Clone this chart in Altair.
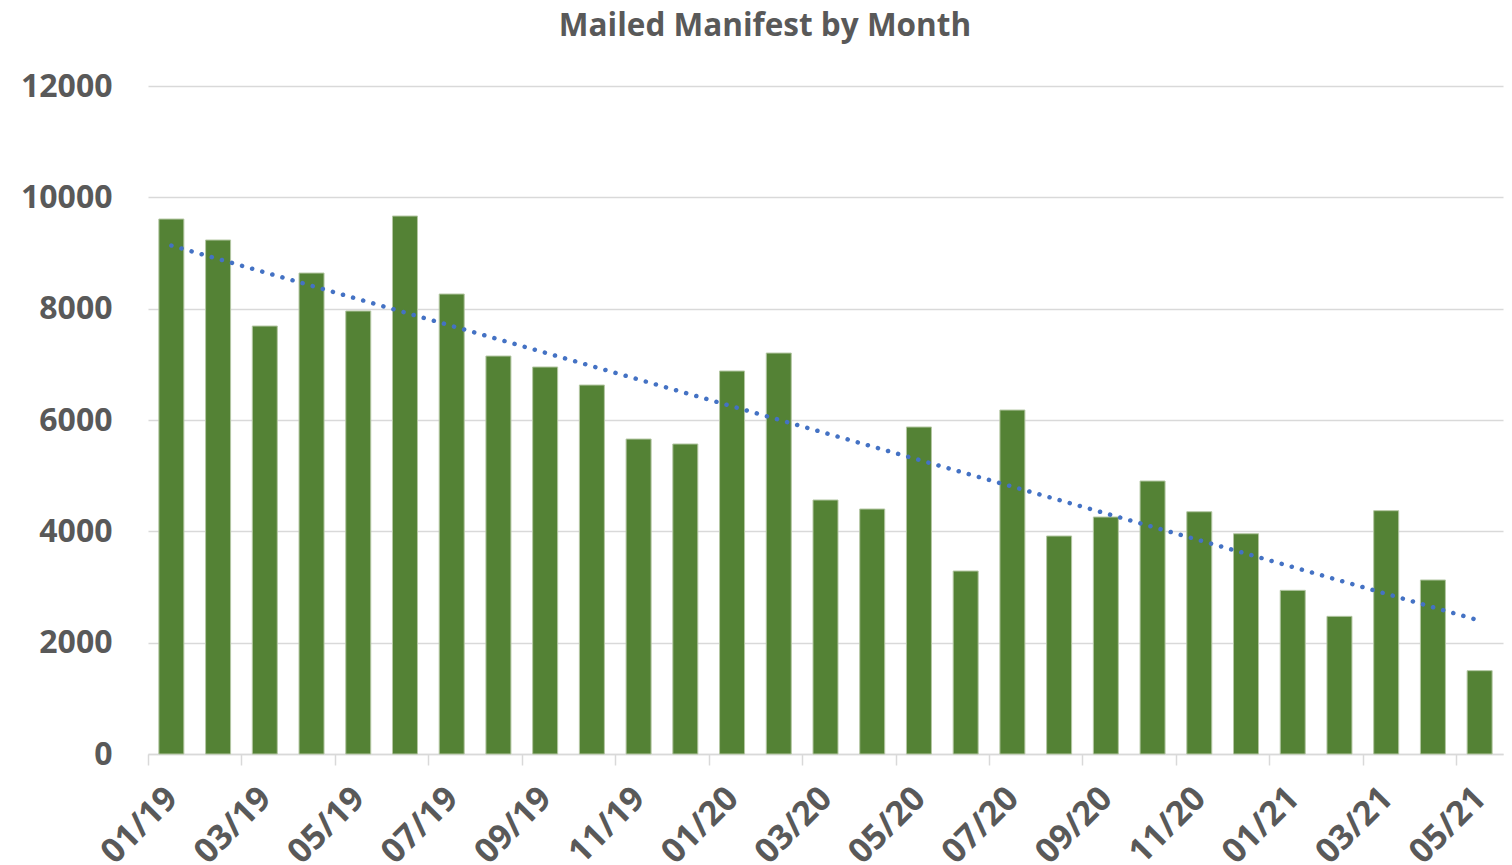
import altair as alt
import pandas as pd

title_text = "Mailed Manifest by  Month"
months = ["01/19", "02/19", "03/19", "04/19", "05/19", "06/19", "07/19", "08/19",
          "09/19", "10/19", "11/19", "12/19", "01/20", "02/20", "03/20", "04/20",
          "05/20", "06/20", "07/20", "08/20", "09/20", "10/20", "11/20", "12/20",
          "01/21", "02/21", "03/21", "04/21", "05/21"]
values = [9610, 9233, 7688, 8640, 7958, 9664, 8263, 7149, 6952, 6628, 5658, 5569,
          6880, 7203, 4563, 4401, 5874, 3287, 6179, 3916, 4257, 4904, 4352, 3957,
          2940, 2473, 4371, 3126, 1497]
y_ticks = [0, 2000, 4000, 6000, 8000, 10000, 12000]

n = len(months)
df = pd.DataFrame({"month": months, "value": values, "idx": list(range(n))})

label_expr = "[" + ",".join(f"'{m}'" for m in months) + "][datum.value]"

FONT = "Open Sans"
GRAY = "#595959"

x_scale = alt.Scale(domain=[0, n], nice=False, zero=False, padding=0)
y_scale = alt.Scale(domain=[0, 12000], nice=False, padding=0)

x_axis = alt.Axis(values=list(range(0, n, 2)), labelExpr=label_expr, title=None,
                  grid=False, domainColor="#D9D9D9", domainWidth=1.5,
                  tickColor="#D9D9D9", tickSize=11, tickWidth=1.5,
                  labelAngle=-45, labelAlign="right", labelBaseline="middle",
                  labelOffset=24, labelPadding=28, labelFont=FONT, labelFontSize=34,
                  labelFontWeight="bold", labelColor=GRAY, labelOverlap=False,
                  labelFlush=False)
y_axis = alt.Axis(values=y_ticks, format="d", title=None, domain=False, ticks=False,
                  gridColor="#D9D9D9", gridWidth=1.5, labelPadding=36,
                  labelFont=FONT, labelFontSize=32, labelFontWeight="bold",
                  labelColor=GRAY)

base = alt.Chart(df).transform_calculate(center="datum.idx + 0.5")

bars = base.mark_bar(size=25, color="#548235", stroke="#B4C7A3", strokeWidth=1).encode(
    x=alt.X("center:Q", scale=x_scale, axis=x_axis),
    y=alt.Y("value:Q", scale=y_scale, axis=y_axis),
)

trend = base.transform_regression("center", "value", extent=[0.5, n - 0.5]).mark_line(
    color="#4472C4", strokeWidth=4.5, strokeDash=[0.1, 10.4], strokeCap="round"
).encode(
    x=alt.X("center:Q", scale=x_scale),
    y=alt.Y("value:Q", scale=y_scale),
)

title = alt.Chart(pd.DataFrame({"t": [title_text]})).mark_text(
    font=FONT, fontSize=31.5, fontWeight="bold", color=GRAY, align="center",
    baseline="alphabetic"
).encode(text="t:N", x=alt.value(617), y=alt.value(-50))

chart = alt.layer(bars, trend, title).properties(
    width=1355, height=668,
    padding={"left": 140, "top": 78, "right": 1, "bottom": 110},
    autosize=alt.AutoSizeParams(type="none"),
).configure_view(stroke=None)

chart.save("out.html", embed_options={"renderer": "svg", "actions": False})
